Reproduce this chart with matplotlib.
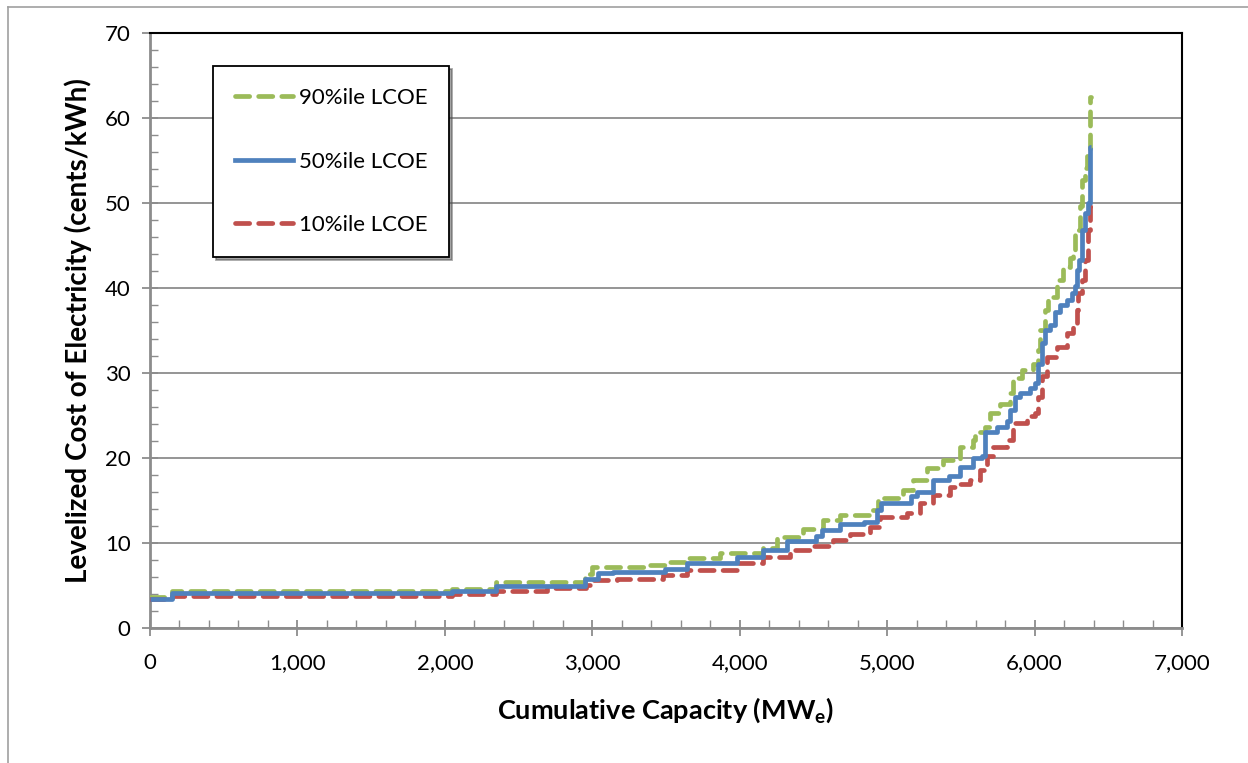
"""
Supply curve of levelized cost of electricity vs cumulative capacity
"""
import matplotlib
matplotlib.use('Agg')
import matplotlib.pyplot as plt
from matplotlib.ticker import MultipleLocator, FuncFormatter
from matplotlib.lines import Line2D

plt.rcParams['font.family'] = ['Lato', 'DejaVu Sans']

# step curves: (cumulative MWe, cents/kWh)
cap_p90 = [0, 150, 2050, 2350, 2950, 3000, 3390, 3527, 3640, 3866, 4160, 4250, 4430, 4566,
           4680, 4884, 4940, 5110, 5178, 5268, 5381, 5494, 5585, 5596, 5664, 5698, 5766,
           5833, 5856, 5912, 5991, 6025, 6037, 6071, 6093, 6150, 6195, 6240, 6263, 6274,
           6308, 6320, 6342, 6353, 6376, 6380]
lcoe_p90 = [3.7, 4.4, 4.6, 5.4, 6.3, 7.2, 7.4, 7.8, 8.2, 8.8, 9.4, 10.7, 11.7, 12.7,
            13.3, 13.9, 15.3, 16.2, 17.4, 18.8, 19.8, 21.3, 22.1, 23.1, 23.7, 25.3, 26.4,
            27.6, 29.4, 30.4, 31.1, 32.7, 35.1, 37.4, 39.0, 40.9, 42.5, 43.5, 44.5, 46.8,
            49.6, 52.7, 54.1, 55.5, 62.5, 62.5]

cap_p50 = [0, 150, 2050, 2350, 2950, 3040, 3140, 3490, 3640, 3980, 4160, 4320, 4520, 4560,
           4680, 4840, 4930, 4960, 5160, 5200, 5310, 5420, 5495, 5585, 5641, 5664, 5743,
           5811, 5833, 5867, 5901, 5969, 6003, 6025, 6048, 6071, 6105, 6139, 6172, 6218,
           6252, 6274, 6285, 6300, 6320, 6342, 6364, 6376, 6380]
lcoe_p50 = [3.4, 4.15, 4.35, 4.9, 5.75, 6.5, 6.6, 7.0, 7.6, 8.4, 9.2, 10.2, 10.8, 11.5,
            12.2, 12.5, 13.9, 14.7, 15.5, 16.0, 17.4, 17.9, 19.0, 20.0, 20.2, 23.1, 23.7,
            24.3, 25.6, 27.2, 27.6, 28.2, 28.8, 31.1, 33.5, 35.1, 35.6, 37.2, 38.0, 38.6,
            39.4, 40.2, 42.1, 43.3, 46.8, 48.8, 50.0, 56.6, 56.6]

cap_p10 = [0, 150, 2050, 2350, 2690, 2960, 3006, 3165, 3480, 3640, 3980, 4160, 4340, 4500,
           4635, 4749, 4884, 4952, 5133, 5224, 5313, 5426, 5494, 5563, 5630, 5675, 5720,
           5811, 5856, 5946, 6003, 6025, 6048, 6082, 6150, 6218, 6263, 6285, 6297, 6320,
           6342, 6360, 6376, 6380]
lcoe_p10 = [3.4, 3.8, 4.0, 4.4, 4.7, 5.1, 5.6, 5.8, 6.2, 6.8, 7.6, 8.4, 9.2, 9.6,
            10.4, 11.1, 11.9, 13.1, 13.5, 14.7, 15.6, 16.6, 17.0, 17.4, 18.6, 20.2, 21.3,
            22.1, 24.1, 24.9, 25.3, 27.2, 29.6, 31.9, 33.1, 34.7, 35.8, 37.4, 39.4, 40.9,
            43.3, 46.8, 49.6, 49.6]

labels = ['90%ile LCOE', '50%ile LCOE', '10%ile LCOE']
green = '#9BBB59'
blue = '#4F81BD'
red = '#C0504D'

fig = plt.figure(figsize=(12.48, 7.63), dpi=100)
ax = fig.add_axes([150 / 1248, 1 - 628 / 763, 1032 / 1248, 595 / 763])

lw = 3.4
dash = (3.0, 1.9)
ax.plot(cap_p90, lcoe_p90, drawstyle='steps-post', color=green, lw=lw,
        dashes=dash, dash_capstyle='round', zorder=3)
ax.plot(cap_p10, lcoe_p10, drawstyle='steps-post', color=red, lw=lw,
        dashes=dash, dash_capstyle='round', zorder=3)
ax.plot(cap_p50, lcoe_p50, drawstyle='steps-post', color=blue, lw=lw,
        solid_capstyle='butt', zorder=4)

ax.set_xlim(0, 7000)
ax.set_ylim(0, 70)
ax.xaxis.set_major_locator(MultipleLocator(1000))
ax.xaxis.set_minor_locator(MultipleLocator(200))
ax.yaxis.set_major_locator(MultipleLocator(10))
ax.yaxis.set_minor_locator(MultipleLocator(2))
ax.xaxis.set_major_formatter(FuncFormatter(lambda v, p: f'{int(v):,}'))

ax.grid(axis='y', which='major', color='#8c8c8c', lw=1.3, zorder=1)
ax.tick_params(which='major', direction='inout', length=12, width=1.3, color='#8c8c8c',
               labelsize=16, pad=4)
ax.tick_params(which='minor', direction='in', length=6, width=1.0, color='#8c8c8c')
ax.tick_params(axis='x', which='major', pad=12)
ax.tick_params(axis='y', which='major', pad=8)

for s in ['left', 'bottom']:
    ax.spines[s].set_color('#8c8c8c')
    ax.spines[s].set_linewidth(2)
for s in ['top', 'right']:
    ax.spines[s].set_color('black')
    ax.spines[s].set_linewidth(1.5)

ax.set_ylabel('Levelized Cost of Electricity (cents/kWh)', fontsize=20, fontweight='bold',
              labelpad=9)
ax.set_xlabel('Cumulative Capacity (MW$_\\mathregular{e}$)', fontsize=19.5, fontweight='bold',
              labelpad=16)

handles = [Line2D([], [], color=green, lw=lw, dashes=dash, dash_capstyle='round'),
           Line2D([], [], color=blue, lw=lw),
           Line2D([], [], color=red, lw=lw, dashes=dash, dash_capstyle='round')]
leg = ax.legend(handles, labels, loc='upper left',
                bbox_to_anchor=(63 / 1032, (628 - 66) / 595),
                fontsize=16, frameon=True, fancybox=False, shadow=True,
                handlelength=2.6, handletextpad=0.25, labelspacing=1.95,
                borderpad=1.0, borderaxespad=0)
leg.get_frame().set_edgecolor('black')
leg.get_frame().set_linewidth(1.3)
leg.set_zorder(5)

# outer chart border
fig.add_artist(Line2D([8 / 1248, 8 / 1248], [0, 1 - 7 / 763], color='#a0a0a0', lw=1.2))
fig.add_artist(Line2D([8 / 1248, 1], [1 - 7 / 763, 1 - 7 / 763], color='#a0a0a0', lw=1.2))

fig.savefig('out.png', dpi=100, facecolor='white')
